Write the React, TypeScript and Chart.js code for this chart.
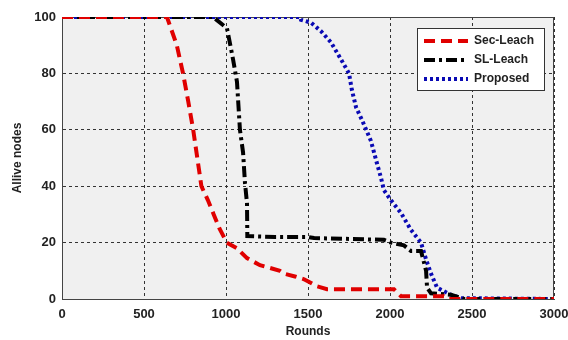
import React, { useEffect, useRef } from "react";
import { Chart, registerables } from "chart.js";

Chart.register(...registerables);

// ---- data ----
const secLeachX = [0, 640, 700, 738, 770, 800, 850, 890, 925, 960, 1005, 1067, 1128, 1207, 1329, 1354, 1420, 1476, 1555, 1616, 1800, 2024, 2067, 2200, 2329, 2360, 3000];
const secLeachY = [100, 100, 90, 80, 70, 60, 40, 35, 30, 25, 20, 18, 14.5, 12, 10, 9, 8, 7, 4.5, 3.5, 3.5, 3.5, 1, 1, 1, 0, 0];

const slLeachX = [0, 921, 1006, 1043, 1067, 1085, 1104, 1116, 1128, 1130, 1300, 1500, 1537, 1963, 2006, 2085, 2128, 2189, 2207, 2220, 2226, 2250, 2372, 2451, 3000];
const slLeachY = [100, 100, 96, 85, 77, 60, 52, 41, 34, 22.3, 22, 22, 21.6, 21, 20, 19, 17, 17, 13, 10, 4, 2, 1.5, 0, 0];

const proposedX = [0, 1451, 1457, 1518, 1579, 1640, 1701, 1750, 1768, 1793, 1829, 1884, 1921, 1945, 1963, 2006, 2067, 2128, 2189, 2220, 2250, 2287, 2372, 2433, 3000];
const proposedY = [100, 100, 99, 98, 95, 91, 85, 80, 74, 68, 63.5, 56, 48, 43, 38.6, 35, 30.5, 24.5, 20, 14, 9, 4, 1.5, 0.3, 0];

const seriesLabels = ["Sec-Leach", "SL-Leach", "Proposed"];
const xTicks = [0, 500, 1000, 1500, 2000, 2500, 3000];
const yTicks = [0, 20, 40, 60, 80, 100];

const pts = (xs: number[], ys: number[]) => xs.map((x, i) => ({ x, y: ys[i] }));

const plotBg = {
  id: "plotBg",
  beforeDraw(chart: any) {
    const { ctx, chartArea: a } = chart;
    ctx.save();
    ctx.fillStyle = "#f0f0f0";
    ctx.fillRect(a.left, a.top, a.right - a.left, a.bottom - a.top);
    ctx.restore();
  },
  beforeDatasetsDraw(chart: any) {
    const { ctx, chartArea: a } = chart;
    ctx.save();
    ctx.strokeStyle = "#444";
    ctx.lineWidth = 1;
    ctx.strokeRect(a.left + 0.5, a.top + 0.5, a.right - a.left - 1, a.bottom - a.top);
    ctx.restore();
  },
};

const boxLegend = {
  id: "boxLegend",
  afterDatasetsDraw(chart: any) {
    const { ctx } = chart;
    const x0 = 417, y0 = 28, w = 128, h = 63;
    ctx.save();
    ctx.fillStyle = "#ffffff";
    ctx.fillRect(x0, y0, w, h);
    ctx.strokeStyle = "#333";
    ctx.lineWidth = 1;
    ctx.strokeRect(x0 + 0.5, y0 + 0.5, w - 1, h - 1);
    chart.data.datasets.forEach((ds: any, i: number) => {
      const y = y0 + 13 + i * 19;
      ctx.strokeStyle = ds.borderColor;
      ctx.lineWidth = ds.borderWidth;
      ctx.setLineDash(ds.borderDash || []);
      ctx.beginPath();
      ctx.moveTo(x0 + 7, y);
      ctx.lineTo(x0 + 51, y);
      ctx.stroke();
      ctx.setLineDash([]);
      ctx.fillStyle = "#222";
      ctx.font = "bold 12px 'Liberation Sans', Arial, sans-serif";
      ctx.textBaseline = "middle";
      ctx.textAlign = "left";
      ctx.fillText(ds.label, x0 + 57, y);
    });
    ctx.restore();
  },
};

export default function App() {
  const ref = useRef<HTMLCanvasElement>(null);
  useEffect(() => {
    document.body.style.margin = "0";
    const font = { family: "'Liberation Sans', Arial, sans-serif", size: 13, weight: "bold" as const };
    const titleFont = { family: "'Liberation Sans', Arial, sans-serif", size: 12, weight: "bold" as const };
    const grid = {
      color: "#333",
      lineWidth: 1,
      drawTicks: false,
    };
    const noPad = (s: any) => { s.paddingLeft = 0; s.paddingRight = 0; s.paddingTop = 0; s.paddingBottom = 0; };
    const chart = new Chart(ref.current!, {
      type: "line",
      data: {
        datasets: [
          {
            label: seriesLabels[0],
            data: pts(secLeachX, secLeachY),
            borderColor: "#e00000",
            borderWidth: 4,
            borderDash: [11, 6],
            pointRadius: 0,
            tension: 0,
          },
          {
            label: seriesLabels[1],
            data: pts(slLeachX, slLeachY),
            borderColor: "#000000",
            borderWidth: 4,
            borderDash: [11, 4, 3, 4],
            pointRadius: 0,
            tension: 0,
          },
          {
            label: seriesLabels[2],
            data: pts(proposedX, proposedY),
            borderColor: "#0a0ab4",
            borderWidth: 4,
            borderDash: [3, 3],
            pointRadius: 0,
            tension: 0,
          },
        ],
      },
      options: {
        animation: false,
        responsive: false,
        layout: { padding: { top: 17, right: 14, left: 0, bottom: 0 } },
        plugins: { legend: { display: false }, tooltip: { enabled: false } },
        scales: {
          x: {
            type: "linear",
            min: 0,
            max: 3000,
            afterBuildTicks: (s: any) => { s.ticks = xTicks.map((v) => ({ value: v })); },
            afterFit: (s: any) => { s.height = 41; noPad(s); },
            ticks: { font, color: "#222", padding: 8, autoSkip: false, maxRotation: 0, callback: (v: any) => String(v) },
            grid: grid as any,
            border: { display: true, color: "#444", dash: [3, 3] } as any,
            title: { display: true, text: "Rounds", font: titleFont, color: "#222", padding: { top: 0, bottom: 1 } },
          },
          y: {
            min: 0,
            max: 100,
            afterBuildTicks: (s: any) => { s.ticks = yTicks.map((v) => ({ value: v })); },
            afterFit: (s: any) => { s.width = 62; noPad(s); },
            ticks: { font, color: "#222", padding: 6, callback: (v: any) => String(v) },
            grid: grid as any,
            border: { display: true, color: "#444", dash: [3, 3] } as any,
            title: { display: true, text: "Allive nodes", font: titleFont, color: "#222", padding: { top: 10, bottom: 0 } },
          },
        },
      },
      plugins: [plotBg, boxLegend],
    });
    return () => chart.destroy();
  }, []);
  return (
    <div style={{ position: "absolute", left: 0, top: 0, width: 568, height: 340, background: "#fff" }}>
      <canvas ref={ref} width={568} height={340} />
    </div>
  );
}
